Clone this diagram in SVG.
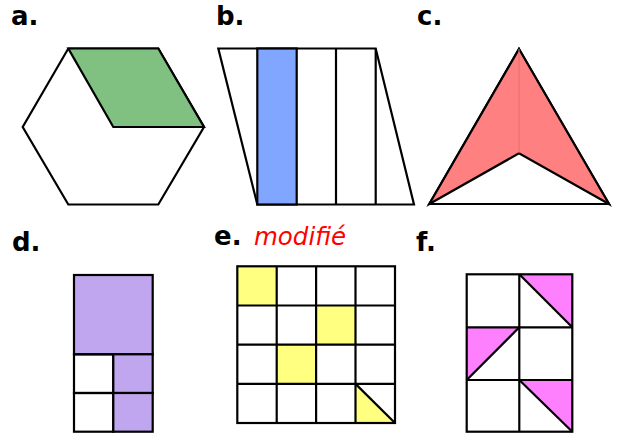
<svg xmlns="http://www.w3.org/2000/svg" width="617" height="438" viewBox="0 0 617 438">
<style>
.lbl{font-family:"DejaVu Sans",sans-serif;font-weight:bold;font-size:26px;fill:#000}
.mod{font-family:"DejaVu Sans",sans-serif;font-style:italic;font-size:24.5px;fill:#ff0000}
.s{stroke:#000;stroke-width:2.2;stroke-linejoin:miter;fill:none}
</style>
<rect width="617" height="438" fill="#fff"/>
<g id="a">
<text class="lbl" x="11" y="25">a.</text>
<polygon class="s" points="68.3,48.5 158.3,48.5 204,127 158.3,204.5 68.3,204.5 22.7,127"/>
<polygon points="68.3,48.5 158.3,48.5 204,127 113.3,127" fill="#80c080" stroke="#000" stroke-width="2.2"/>
</g>
<g id="b">
<text class="lbl" x="216" y="25">b.</text>
<polygon class="s" points="218.3,48.5 375.7,48.5 414,204.5 257.3,204.5"/>
<rect x="257.3" y="48.5" width="39.4" height="156" fill="#80a6ff" stroke="#000" stroke-width="2.2"/>
<line class="s" x1="336" y1="48.5" x2="336" y2="204.5"/>
<line class="s" x1="375.7" y1="48.5" x2="375.7" y2="204.5"/>
</g>
<g id="c">
<text class="lbl" x="417" y="25">c.</text>
<polygon class="s" points="519,49 609,204 429.3,204"/>
<polygon points="519,49 609,204 519,153.3 429.3,204" fill="#ff8080" stroke="#000" stroke-width="2.2"/>
<line x1="519" y1="49" x2="519" y2="153.3" stroke="#e07070" stroke-width="1"/>
</g>
<g id="d">
<text class="lbl" x="12" y="251">d.</text>
<rect x="74" y="275" width="78.7" height="79.3" fill="#c0a6ee" stroke="#000" stroke-width="2.2"/>
<rect x="74" y="354.3" width="39.3" height="38.7" class="s"/>
<rect x="113.3" y="354.3" width="39.4" height="38.7" fill="#c0a6ee" stroke="#000" stroke-width="2.2"/>
<rect x="74" y="393" width="39.3" height="38.7" class="s"/>
<rect x="113.3" y="393" width="39.4" height="38.7" fill="#c0a6ee" stroke="#000" stroke-width="2.2"/>
</g>
<g id="e">
<text class="lbl" x="214" y="245">e.</text>
<text class="mod" x="254" y="245">modifié</text>
<rect x="237.3" y="266.3" width="39.4" height="39.2" fill="#ffff80"/>
<rect x="316.1" y="305.5" width="39.4" height="39.2" fill="#ffff80"/>
<rect x="276.7" y="344.7" width="39.4" height="39.2" fill="#ffff80"/>
<polygon points="355.5,383.9 395,423 355.5,423" fill="#ffff80"/>
<g class="s">
<rect x="237.3" y="266.3" width="157.7" height="156.7"/>
<line x1="276.7" y1="266.3" x2="276.7" y2="423"/>
<line x1="316.1" y1="266.3" x2="316.1" y2="423"/>
<line x1="355.5" y1="266.3" x2="355.5" y2="423"/>
<line x1="237.3" y1="305.5" x2="395" y2="305.5"/>
<line x1="237.3" y1="344.7" x2="395" y2="344.7"/>
<line x1="237.3" y1="383.9" x2="395" y2="383.9"/>
<line x1="355.5" y1="383.9" x2="395" y2="423"/>
</g>
</g>
<g id="f">
<text class="lbl" x="416" y="251">f.</text>
<polygon points="519.3,274.3 572.3,274.3 572.3,327.3" fill="#ff80ff"/>
<polygon points="466.7,327.3 519.3,327.3 466.7,380" fill="#ff80ff"/>
<polygon points="519.3,380 572.3,380 572.3,431.7" fill="#ff80ff"/>
<g class="s">
<rect x="466.7" y="274.3" width="105.6" height="157.4"/>
<line x1="519.3" y1="274.3" x2="519.3" y2="431.7"/>
<line x1="466.7" y1="327.3" x2="572.3" y2="327.3"/>
<line x1="466.7" y1="380" x2="572.3" y2="380"/>
<line x1="519.3" y1="274.3" x2="572.3" y2="327.3"/>
<line x1="519.3" y1="327.3" x2="466.7" y2="380"/>
<line x1="519.3" y1="380" x2="572.3" y2="431.7"/>
</g>
</g>
</svg>
